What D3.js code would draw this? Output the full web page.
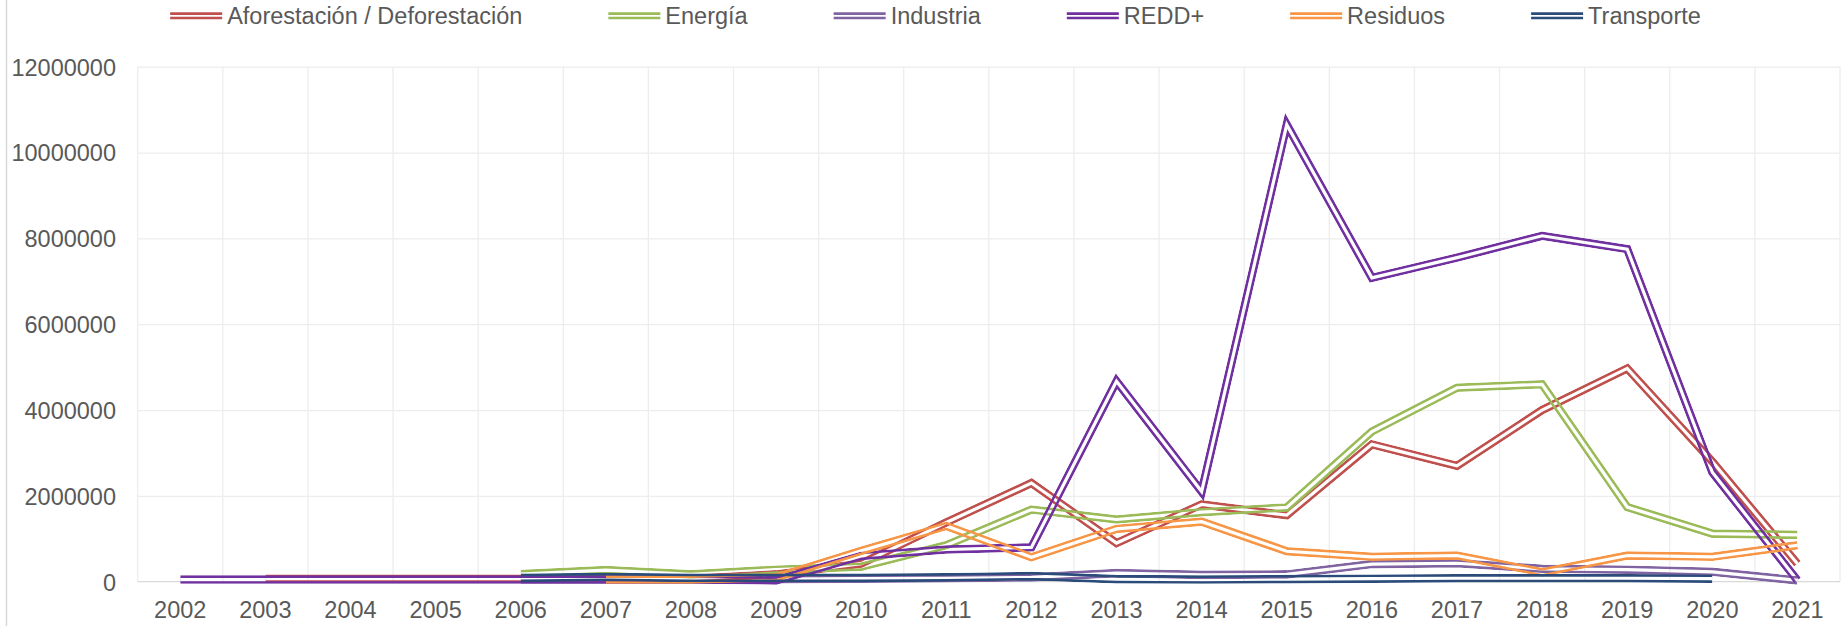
<!DOCTYPE html>
<html>
<head>
<meta charset="utf-8">
<script src="https://cdn.jsdelivr.net/npm/d3@7"></script>
<style>
    body { margin: 0; background: #fff; }
    svg { display: block; font-family: "Liberation Sans", Arial, sans-serif; }
</style>
</head>
<body>
<svg id="canvas" width="1845" height="626"></svg>
<script>
// categories (years) and y ticks
var years = ['2002','2003','2004','2005','2006','2007','2008','2009','2010','2011',
             '2012','2013','2014','2015','2016','2017','2018','2019','2020','2021'];
var yTicks = [0, 2000000, 4000000, 6000000, 8000000, 10000000, 12000000];

// one array per series, null = no value that year
var aforestacion = [null, 70000, 70000, 70000, 70000, 70000, 70000, 170000, 420000, 1380000,
                    2300000, 900000, 1800000, 1550000, 3200000, 2700000, 4000000, 4970000, 2800000, 420000];
var energia      = [null, null, null, null, 180000, 270000, 170000, 280000, 350000, 850000,
                    1680000, 1450000, 1620000, 1730000, 3500000, 4520000, 4600000, 1740000, 1120000, 1090000];
var industria    = [null, null, null, null, 50000, 50000, 50000, 60000, 70000, 80000,
                    100000, 200000, 160000, 170000, 410000, 430000, 300000, 280000, 230000, 30000];
var redd         = [50000, 50000, 50000, 50000, 50000, 50000, 50000, 30000, 600000, 750000,
                    800000, 4670000, 2100000, 10650000, 7080000, 7550000, 8060000, 7750000, 2550000, 30000];
var residuos     = [null, null, null, null, null, 50000, 50000, 100000, 720000, 1300000,
                    570000, 1230000, 1400000, 710000, 580000, 610000, 220000, 610000, 580000, 850000];
var transporte   = [null, null, null, null, 90000, 110000, 90000, 90000, 90000, 100000,
                    130000, 60000, 50000, 60000, 70000, 80000, 80000, 80000, 70000, null];

var seriesNames  = ['Aforestación / Deforestación', 'Energía', 'Industria', 'REDD+', 'Residuos', 'Transporte'];
var seriesValues = [aforestacion, energia, industria, redd, residuos, transporte];
var seriesColors = ['#C0504D', '#9BBB59', '#8064A2', '#7030A0', '#F79646', '#2B4C7A'];

var textColor = '#595959';
var fontSize = 23.5;

window.onload = function()
{
    MakeChart();
}

function MakeChart(){
    var svg = d3.select('#canvas');
    var left = 137.7, right = 1840, top = 66.7, bottom = 581.7;

    var x = d3.scaleBand().domain(years).range([left, right]);
    var y = d3.scaleLinear().domain([0, 12000000]).range([bottom, top]);

    // chart area border on the left
    svg.append('line')
        .attr('x1', 6.5).attr('x2', 6.5).attr('y1', 0).attr('y2', 626)
        .style('stroke', '#D9D9D9').style('stroke-width', 1.5);

    // horizontal gridlines
    svg.append('g')
        .attr('transform', 'translate(' + left + ',0)')
        .call(d3.axisLeft(y).tickValues(yTicks.slice(1)).tickSize(-(right - left)).tickFormat(''))
        .call(g => g.select('.domain').remove())
        .call(g => g.selectAll('line').style('stroke', '#EDEDED').style('stroke-width', 1.3));

    // vertical gridlines at category boundaries
    var bounds = years.map(d => x(d)).concat([right]);
    svg.append('g').selectAll('line')
        .data(bounds)
        .join('line')
        .attr('x1', d => d).attr('x2', d => d)
        .attr('y1', top).attr('y2', bottom)
        .style('stroke', '#EDEDED').style('stroke-width', 1.3);

    // zero axis line
    svg.append('line')
        .attr('x1', left).attr('x2', right).attr('y1', y(0)).attr('y2', y(0))
        .style('stroke', '#D9D9D9').style('stroke-width', 1.3);

    // y labels
    var yAxis = svg.append('g')
        .attr('transform', 'translate(116,0)')
        .call(d3.axisLeft(y).tickValues(yTicks).tickSize(0).tickPadding(0).tickFormat(d3.format('d')));
    yAxis.select('.domain').remove();
    yAxis.selectAll('text')
        .attr('dy', null)
        .attr('y', 8.3)
        .style('font-size', fontSize + 'px')
        .style('font-family', '"Liberation Sans", Arial, sans-serif')
        .style('fill', textColor);

    // x labels
    var xAxis = svg.append('g')
        .attr('transform', 'translate(0,' + bottom + ')')
        .call(d3.axisBottom(x).tickSize(0).tickPadding(0));
    xAxis.select('.domain').remove();
    xAxis.selectAll('text')
        .attr('dy', null)
        .attr('y', 36.6)
        .style('font-size', fontSize + 'px')
        .style('font-family', '"Liberation Sans", Arial, sans-serif')
        .style('fill', textColor);

    // double lines: coloured stroke with a see-through centre (mask)
    var line = d3.line()
        .defined(d => d.v != null)
        .x(d => x(d.year) + x.bandwidth() / 2)
        .y(d => y(d.v));

    var outerW = 8.6, innerW = 3.2;
    var defs = svg.append('defs');
    seriesValues.forEach(function(vals, i){
        var pts = years.map((yr, j) => ({year: yr, v: vals[j]}));
        var pathD = line(pts);
        var mask = defs.append('mask')
            .attr('id', 'mask' + i)
            .attr('maskUnits', 'userSpaceOnUse')
            .attr('x', 0).attr('y', 0).attr('width', 1845).attr('height', 626);
        mask.append('path').attr('d', pathD)
            .style('fill', 'none').style('stroke', '#fff').style('stroke-width', outerW)
            .style('stroke-linejoin', 'miter').style('stroke-miterlimit', 10);
        mask.append('path').attr('d', pathD)
            .style('fill', 'none').style('stroke', '#000').style('stroke-width', innerW)
            .style('stroke-linejoin', 'miter').style('stroke-miterlimit', 10);

        svg.append('path')
            .attr('d', pathD)
            .attr('mask', 'url(#mask' + i + ')')
            .style('fill', 'none')
            .style('stroke', seriesColors[i])
            .style('stroke-width', outerW)
            .style('stroke-linejoin', 'miter')
            .style('stroke-miterlimit', 10);
    });

    MakeLegend(svg);
}

function MakeLegend(svg){
    var legendY = 15.8;
    var sampleW = 52, gapW = 5, spacing = 86;
    var g = svg.append('g');

    var items = g.selectAll('g')
        .data(seriesNames)
        .join('g');

    items.append('text')
        .text(d => d)
        .attr('y', legendY + 8.3)
        .style('font-size', fontSize + 'px')
        .style('fill', textColor);

    // lay out entries one after another, centred as a group
    var widths = [];
    items.select('text').each(function(){ widths.push(this.getComputedTextLength()); });
    var total = d3.sum(widths) + seriesNames.length * (sampleW + gapW) + (seriesNames.length - 1) * spacing;
    var pos = 935.5 - total / 2;

    items.each(function(d, i){
        var item = d3.select(this);
        item.append('line')
            .attr('x1', pos).attr('x2', pos + sampleW)
            .attr('y1', legendY - 2.2).attr('y2', legendY - 2.2)
            .style('stroke', seriesColors[i]).style('stroke-width', 2.7);
        item.append('line')
            .attr('x1', pos).attr('x2', pos + sampleW)
            .attr('y1', legendY + 2.2).attr('y2', legendY + 2.2)
            .style('stroke', seriesColors[i]).style('stroke-width', 2.7);
        item.select('text').attr('x', pos + sampleW + gapW);
        pos += sampleW + gapW + widths[i] + spacing;
    });
}
</script>
</body>
</html>
